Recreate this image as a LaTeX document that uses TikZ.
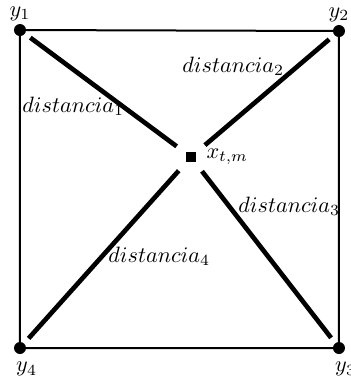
\documentclass[tikz,border=0pt]{standalone}
\usetikzlibrary{positioning}
\begin{document}
\begin{tikzpicture}[
x=0.45pt, y=-0.45pt,
corner/.style={circle, fill, inner sep=0pt, minimum size=5.4pt},
target/.style={rectangle, fill, inner sep=0pt, minimum size=4.5pt},
dist/.style={line width=2.1pt, shorten <=2.9pt, shorten >=5pt},
side/.style={line width=0.9pt},
distlabel/.style={anchor=base west, inner sep=0pt}
]
\useasboundingbox (0,0) rectangle (351,377);

\node[corner, label={[label distance=-2.3pt]above:$y_1$}] (y1) at (20,30) {};
\node[corner, label={[label distance=-2.3pt]above:$y_2$}] (y2) at (339,31) {};
\node[corner, label={[xshift=3pt]below:$y_3$}] (y3) at (339,348) {};
\node[corner, label={[xshift=3pt]below:$y_4$}] (y4) at (20,348) {};
\node[target, label={[label distance=1pt]right:$x_{t,m}$}] (xtm) at (191,157) {};

\draw[side] (y1.center) -- (y2.center) -- (y3.center) -- (y4.center) -- cycle;

\draw[dist] (y1) -- (xtm);
\draw[dist] (y2) -- (xtm);
\draw[dist] (y3) -- (xtm);
\draw[dist] (y4) -- (xtm);

\node[distlabel] (d1) at (22,112) {$distancia_1$};
\node[distlabel] (d2) at (182,72) {$distancia_2$};
\node[distlabel] (d3) at (238,212) {$distancia_3$};
\node[distlabel] (d4) at (108,262) {$distancia_4$};

\end{tikzpicture}
\end{document}
